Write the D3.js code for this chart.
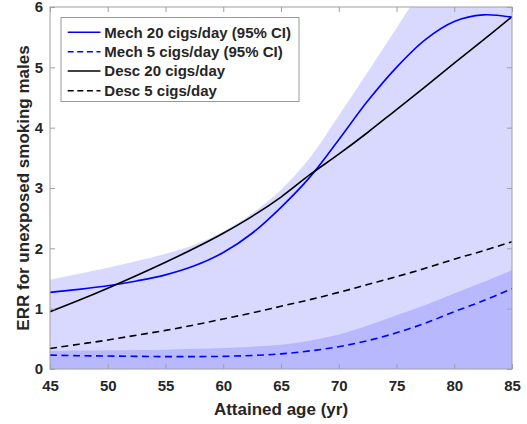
<!DOCTYPE html>
<html>
<head>
<meta charset="utf-8">
<script src="https://cdn.jsdelivr.net/npm/d3@7"></script>
<style>
  html, body { margin: 0; padding: 0; background: #fff; }
  svg text { font-family: "Liberation Sans", Arial, Helvetica, sans-serif; font-weight: bold; fill: #262626; }
</style>
</head>
<body>
<svg id="chart" width="527" height="424"></svg>
<script>
// Attained age grid (years)
const ages = [45, 47.5, 50, 52.5, 55, 57.5, 60, 62.5, 65, 67.5, 70, 72.5, 75, 77.5, 80, 82.5, 85];

// Excess relative risk, mechanistic model
const mech20 = [1.27, 1.32, 1.38, 1.46, 1.56, 1.71, 1.93, 2.25, 2.68, 3.18, 3.80, 4.44, 5.00, 5.46, 5.76, 5.87, 5.83];
const mech20Lo = [0, 0, 0, 0, 0, 0, 0, 0, 0, 0, 0, 0, 0, 0, 0, 0, 0];
const mech20Hi = [1.48, 1.58, 1.68, 1.79, 1.91, 2.06, 2.28, 2.58, 2.97, 3.50, 4.20, 4.92, 5.65, 6.40, 7.15, 7.90, 8.65];

const mech5 = [0.23, 0.22, 0.215, 0.21, 0.205, 0.205, 0.21, 0.225, 0.25, 0.30, 0.37, 0.47, 0.60, 0.76, 0.95, 1.13, 1.33];
const mech5Lo = [0, 0, 0, 0, 0, 0, 0, 0, 0, 0, 0, 0, 0, 0, 0, 0, 0];
const mech5Hi = [0.30, 0.305, 0.31, 0.315, 0.32, 0.335, 0.35, 0.37, 0.40, 0.47, 0.57, 0.72, 0.89, 1.06, 1.25, 1.44, 1.64];

// Excess relative risk, descriptive model
const desc20 = [0.95, 1.14, 1.34, 1.55, 1.77, 2.00, 2.25, 2.53, 2.85, 3.22, 3.56, 3.92, 4.30, 4.68, 5.07, 5.45, 5.84];
const desc5 = [0.34, 0.41, 0.48, 0.56, 0.64, 0.73, 0.83, 0.93, 1.04, 1.15, 1.27, 1.40, 1.53, 1.67, 1.82, 1.96, 2.11];

const xTicks = [45, 50, 55, 60, 65, 70, 75, 80, 85];
const yTicks = [0, 1, 2, 3, 4, 5, 6];

const legendLabels = ["Mech 20 cigs/day (95% CI)", "Mech 5 cigs/day (95% CI)", "Desc 20 cigs/day", "Desc 5 cigs/day"];

const svg = d3.select("#chart");
const pL = 50, pR = 512, pT = 7, pB = 369;

const x = d3.scaleLinear().domain([45, 85]).range([pL, pR]);
const y = d3.scaleLinear().domain([0, 6]).range([pB, pT]);

svg.append("defs").append("clipPath").attr("id", "plotClip")
  .append("rect").attr("x", pL).attr("y", pT).attr("width", pR - pL).attr("height", pB - pT);

const plot = svg.append("g").attr("clip-path", "url(#plotClip)");
const smooth = d3.curveCatmullRom.alpha(0.5);

// Confidence bands
function band(lo, hi) {
  return d3.area()
    .x((d, i) => x(ages[i]))
    .y0((d, i) => y(lo[i]))
    .y1((d, i) => y(hi[i]))
    .curve(smooth)(ages);
}
plot.append("path").attr("d", band(mech20Lo, mech20Hi)).attr("fill", "#0000ff").attr("fill-opacity", 0.15);
plot.append("path").attr("d", band(mech5Lo, mech5Hi)).attr("fill", "#0000ff").attr("fill-opacity", 0.15);

// Curves
function curve(vals) {
  return d3.line()
    .x((d, i) => x(ages[i]))
    .y((d, i) => y(vals[i]))
    .curve(smooth)(ages);
}
const series = [
  { vals: mech20, color: "#0000ff", dash: null },
  { vals: mech5, color: "#0000ff", dash: "7,4.5" },
  { vals: desc20, color: "#000000", dash: null },
  { vals: desc5, color: "#000000", dash: "7,4.5" }
];
series.forEach(s => {
  plot.append("path").attr("d", curve(s.vals))
    .attr("fill", "none").attr("stroke", s.color).attr("stroke-width", 1.6)
    .attr("stroke-dasharray", s.dash);
});

// Axes
const axisColor = "#a0a0a0";
const fmt = d3.format("d");
const gx = svg.append("g").attr("transform", `translate(0,${pB})`)
  .call(d3.axisBottom(x).tickValues(xTicks).tickFormat(fmt).tickSize(-5).tickPadding(11));
const gy = svg.append("g").attr("transform", `translate(${pL},0)`)
  .call(d3.axisLeft(y).tickValues(yTicks).tickFormat(fmt).tickSize(-5).tickPadding(7));
const gxt = svg.append("g").attr("transform", `translate(0,${pT})`)
  .call(d3.axisTop(x).tickValues(xTicks).tickSize(-5).tickFormat(""));
const gyr = svg.append("g").attr("transform", `translate(${pR},0)`)
  .call(d3.axisRight(y).tickValues(yTicks).tickSize(-5).tickFormat(""));
[gx, gy, gxt, gyr].forEach(g => {
  g.select(".domain").remove();
  g.selectAll(".tick line").attr("stroke", axisColor);
  g.selectAll(".tick text").style("font-size", "15px").attr("fill", "#262626");
});
svg.append("rect").attr("x", pL).attr("y", pT).attr("width", pR - pL).attr("height", pB - pT)
  .attr("fill", "none").attr("stroke", axisColor).attr("stroke-width", 1);

// Axis titles
svg.append("text").attr("x", (pL + pR) / 2).attr("y", 415)
  .attr("text-anchor", "middle").style("font-size", "17px").text("Attained age (yr)");
svg.append("text").attr("transform", `translate(29,${(pT + pB) / 2}) rotate(-90)`)
  .attr("text-anchor", "middle").style("font-size", "17px").text("ERR for unexposed smoking males");

// Legend
const lg = svg.append("g");
lg.append("rect").attr("x", 61).attr("y", 17.5).attr("width", 238).attr("height", 84)
  .attr("fill", "#fff").attr("stroke", "#9a9a9a").attr("stroke-width", 1);
const rowY = [32.3, 51.7, 71, 90.7];
legendLabels.forEach((lab, i) => {
  lg.append("line").attr("x1", 67.7).attr("x2", 100.5).attr("y1", rowY[i]).attr("y2", rowY[i])
    .attr("stroke", series[i].color).attr("stroke-width", 1.6)
    .attr("stroke-dasharray", series[i].dash ? "6,3.6" : null);
  lg.append("text").attr("x", 104.3).attr("y", rowY[i]).attr("dy", "0.36em")
    .style("font-size", "15px").text(lab);
});
</script>
</body>
</html>
